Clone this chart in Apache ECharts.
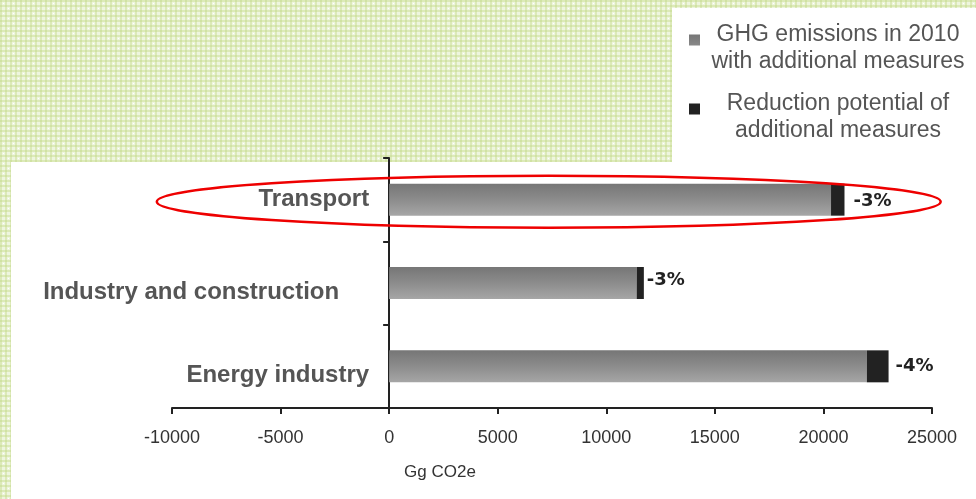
<!DOCTYPE html>
<html>
<head>
<meta charset="utf-8">
<script src="https://cdn.jsdelivr.net/npm/echarts@6/dist/echarts.min.js"></script>
<style>
html,body{margin:0;padding:0;background:#fff;}
#chart{width:976px;height:499px;}
</style>
</head>
<body>
<div id="chart"></div>
<script>
// ---- data ----
var categories = ['Energy industry', 'Industry and construction', 'Transport'];
var emissions2010 = [22000, 11400, 20350];
var reduction = [1000, 330, 620];
var reductionLabels = ['-4%', '-3%', '-3%'];
var xTicks = { min: -10000, max: 25000, interval: 5000 };
var seriesNames = ['GHG emissions in 2010 with additional measures', 'Reduction potential of additional measures'];
var legendLines = {
  'GHG emissions in 2010 with additional measures': ['GHG emissions in 2010', 'with additional measures'],
  'Reduction potential of additional measures': ['Reduction potential of', 'additional measures']
};

// gingham pattern
function makePattern() {
  var c = document.createElement('canvas');
  c.width = 10; c.height = 10;
  var g = c.getContext('2d');
  g.fillStyle = '#eef5de'; g.fillRect(0, 0, 10, 10);
  g.fillStyle = '#dce9b8';
  g.fillRect(0, 0, 10, 2); g.fillRect(0, 5, 10, 2);
  g.fillRect(0, 0, 2, 10); g.fillRect(5, 0, 2, 10);
  g.fillStyle = '#d0e2a3';
  g.fillRect(0, 0, 2, 2); g.fillRect(5, 0, 2, 2); g.fillRect(0, 5, 2, 2); g.fillRect(5, 5, 2, 2);
  g.fillStyle = '#ffffff'; g.fillRect(3, 3, 1, 1); g.fillRect(8, 8, 1, 1);
  return c;
}

var chart = echarts.init(document.getElementById('chart'));
var grayGrad = new echarts.graphic.LinearGradient(0, 0, 0, 1, [
  { offset: 0, color: '#767676' },
  { offset: 0.5, color: '#8c8c8c' },
  { offset: 1, color: '#a6a6a6' }
]);

var labelDistances = [7, 3, 9];
var labelOffsetsY = [0, -3, 2];
var catFont = { fontFamily: 'Liberation Sans, Arial, sans-serif', fontWeight: 'bold', fontSize: 24, color: '#555555' };

var option = {
  backgroundColor: '#ffffff',
  animation: false,
  graphic: [
    { type: 'rect', z: -10, silent: true, shape: { x: 0, y: 0, width: 976, height: 499 },
      style: { fill: { image: makePattern(), repeat: 'repeat' } } },
    { type: 'rect', z: -9, silent: true, shape: { x: 11, y: 162, width: 965, height: 337 }, style: { fill: '#ffffff' } },
    { type: 'rect', z: -9, silent: true, shape: { x: 672, y: 8, width: 304, height: 154 }, style: { fill: '#ffffff' } }
  ],
  legend: {
    orient: 'vertical',
    left: 684,
    top: 18,
    itemWidth: 11,
    itemHeight: 27,
    itemGap: 19,
    icon: 'path://M0,0L11,0L11,11L0,11Z M0,27L0.001,27',
    data: seriesNames,
    formatter: function (name) {
      var l = legendLines[name];
      return '{a|' + l[0] + '}\n{a|' + l[1] + '}';
    },
    textStyle: {
      rich: {
        a: { fontFamily: 'Liberation Sans, Arial, sans-serif', fontSize: 23, color: '#555555', lineHeight: 27, width: 266, align: 'center' }
      }
    }
  },
  grid: { left: 172, right: 44, top: 158, bottom: 91, containLabel: false, outerBoundsMode: 'none' },
  xAxis: {
    type: 'value',
    min: xTicks.min, max: xTicks.max, interval: xTicks.interval,
    splitLine: { show: false },
    axisLine: { show: true, onZero: false, lineStyle: { color: '#222222', width: 2 } },
    axisTick: { show: true, length: 6, lineStyle: { color: '#222222', width: 2 } },
    axisLabel: {
      margin: 21, fontFamily: 'Liberation Sans Narrow, Arial Narrow, Liberation Sans, sans-serif', fontSize: 18, color: '#333333',
      formatter: function (v) { return String(v); }
    },
    name: 'Gg CO2e',
    nameLocation: 'middle',
    nameGap: 56,
    nameTextStyle: { fontFamily: 'Liberation Sans, Arial, sans-serif', fontSize: 17, color: '#333333', padding: [0, 224, 0, 0] }
  },
  yAxis: {
    type: 'category',
    data: categories,
    offset: 0,
    axisLine: { show: true, onZero: false, lineStyle: { color: '#222222', width: 2 } },
    axisTick: { show: true, length: 6, lineStyle: { color: '#222222', width: 2 } },
    axisLabel: {
      margin: 20,
      formatter: function (v) {
        if (v === 'Transport') return '{t|' + v + '}';
        if (v === 'Industry and construction') return '{i|' + v + '}';
        return '{e|' + v + '}';
      },
      rich: {
        t: Object.assign({ padding: [0, 0, 0, 0] }, catFont),
        i: Object.assign({ padding: [18, 30, 0, 0] }, catFont),
        e: Object.assign({ padding: [18, 0, 0, 0] }, catFont)
      }
    }
  },
  series: [
    {
      name: seriesNames[0],
      type: 'bar',
      stack: 'total',
      barWidth: 32,
      itemStyle: { color: grayGrad },
      data: emissions2010
    },
    {
      name: seriesNames[1],
      type: 'bar',
      stack: 'total',
      barWidth: 32,
      itemStyle: { color: '#222222' },
      data: reduction.map(function (v, i) {
        return {
          value: v,
          label: {
            show: true,
            position: 'right',
            distance: labelDistances[i],
            offset: [0, labelOffsetsY[i]],
            formatter: reductionLabels[i],
            fontFamily: 'DejaVu Sans, Verdana, sans-serif',
            fontWeight: 'bold',
            fontSize: 18,
            color: '#222222'
          }
        };
      })
    }
  ]
};
chart.setOption(option);

// place the category axis on the x = 0 line of the value scale
var x0 = chart.convertToPixel({ xAxisIndex: 0 }, 0);
var xMin = chart.convertToPixel({ xAxisIndex: 0 }, xTicks.min);
// red highlight ellipse around the Transport row, anchored on the axis scale
var yT = chart.convertToPixel({ yAxisIndex: 0 }, 'Transport');
var xL = chart.convertToPixel({ xAxisIndex: 0 }, -10700);
var xR = chart.convertToPixel({ xAxisIndex: 0 }, 25400);
chart.setOption({
  yAxis: { offset: -(x0 - xMin) },
  graphic: option.graphic.concat([{
    type: 'ellipse', z: 100, silent: true,
    shape: { cx: (xL + xR) / 2, cy: yT + 2, rx: (xR - xL) / 2, ry: 26 },
    style: { fill: 'none', stroke: '#ee0000', lineWidth: 2.5 }
  }])
});
</script>
</body>
</html>
